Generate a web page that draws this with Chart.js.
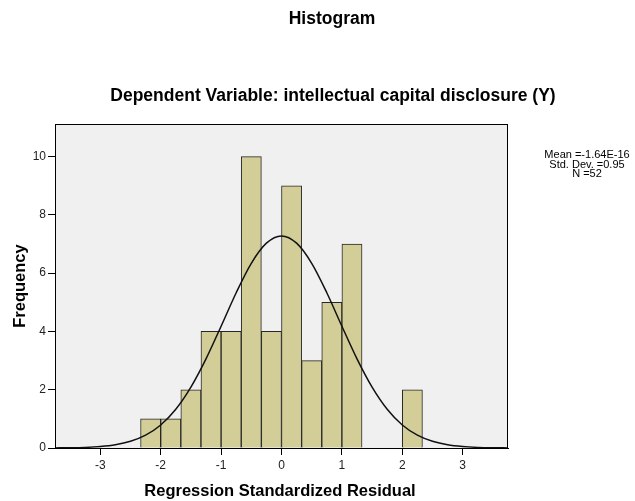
<!DOCTYPE html>
<html>
<head>
<meta charset="utf-8">
<script src="https://cdn.jsdelivr.net/npm/chart.js@4.4.1/dist/chart.umd.min.js"></script>
<style>
  html, body { margin: 0; padding: 0; background: #ffffff; }
  #wrap { width: 635px; height: 501px; position: relative; }
</style>
</head>
<body>
<div id="wrap"><canvas id="histogram"></canvas></div>
<script>
// Bin centres (bin width 1/3) and frequencies
const binCenters = [-2.1667, -1.8333, -1.5, -1.1667, -0.8333, -0.5, -0.1667, 0.1667, 0.5, 0.8333, 1.1667, 1.5, 1.8333, 2.1667];
const frequencies = [1, 1, 2, 4, 4, 10, 4, 9, 3, 5, 7, null, null, 2];

// Normal curve
const curveX = [-3.75, -3.5, -3.25, -3, -2.75, -2.5, -2.25, -2, -1.75, -1.5, -1.25, -1, -0.75, -0.5, -0.25, 0,
  0.25, 0.5, 0.75, 1, 1.25, 1.5, 1.75, 2, 2.25, 2.5, 2.75, 3, 3.25, 3.5, 3.75];
const curveY = [0.003, 0.008, 0.021, 0.05, 0.11, 0.23, 0.44, 0.79, 1.33, 2.09, 3.06, 4.18, 5.33, 6.34, 7.03, 7.28,
  7.03, 6.34, 5.33, 4.18, 3.06, 2.09, 1.33, 0.79, 0.44, 0.23, 0.11, 0.05, 0.021, 0.008, 0.003];

const xTicks = [-3, -2, -1, 0, 1, 2, 3];
const yTicks = [0, 2, 4, 6, 8, 10];

const titleText = 'Histogram';
const subtitleText = 'Dependent Variable: intellectual capital disclosure (Y)';
const xTitle = 'Regression Standardized Residual';
const yTitle = 'Frequency';
const statsLines = ['Mean =-1.64E-16', 'Std. Dev. =0.95', 'N =52'];

const fontFamily = 'Arial, "Liberation Sans", sans-serif';

const ctx = document.getElementById('histogram');

const chart = new Chart(ctx, {
  type: 'bar',
  data: {
    datasets: [
      // Normal curve
      {
        type: 'line',
        data: curveX.map((x, i) => ({ x, y: curveY[i] })),
        borderColor: '#111111',
        borderWidth: 1.5,
        pointRadius: 0,
        fill: false,
        cubicInterpolationMode: 'monotone',
        order: 0,
      },
      // Khaki bars
      {
        type: 'bar',
        data: binCenters.map((x, i) => ({ x, y: frequencies[i] })),
        backgroundColor: '#d3ce98',
        borderColor: '#262626',
        borderWidth: 1,
        barPercentage: 1,
        categoryPercentage: 1,
        order: 1,
      },
    ],
  },
  options: {
    responsive: true,
    maintainAspectRatio: false,
    animation: false,
    layout: {
      padding: { top: 124, right: 127, left: 0, bottom: 0 },
    },
    scales: {
      x: {
        type: 'linear',
        min: -3.75,
        max: 3.75,
        offset: false,
        afterFit: (s) => { s.height = 53; },
        afterBuildTicks: (s) => { s.ticks = xTicks.map(v => ({ value: v })); },
        border: { display: true, color: '#000000', width: 1 },
        grid: {
          display: true,
          offset: false,
          drawOnChartArea: false,
          drawTicks: true,
          tickLength: 7,
          color: '#000000',
        },
        ticks: {
          padding: 3,
          color: '#222222',
          maxRotation: 0,
          font: { family: fontFamily, size: 12 },
        },
      },
      y: {
        min: 0,
        max: 11.12,
        afterFit: (s) => { s.width = 55; },
        afterBuildTicks: (s) => { s.ticks = yTicks.map(v => ({ value: v })); },
        border: { display: true, color: '#000000', width: 1 },
        grid: {
          display: true,
          drawOnChartArea: false,
          drawTicks: true,
          tickLength: 7,
          color: '#000000',
        },
        ticks: {
          padding: 2,
          color: '#222222',
          font: { family: fontFamily, size: 12 },
        },
      },
    },
    plugins: {
      legend: { display: false },
      tooltip: { enabled: false },
    },
  },
  plugins: [{
    id: 'spssFrame',
    beforeDraw(c) {
      const { ctx: g, chartArea: a } = c;
      g.save();
      g.fillStyle = '#f0f0f0';
      g.fillRect(a.left, a.top, a.right - a.left, a.bottom - a.top);
      g.restore();
    },
    afterDraw(c) {
      const { ctx: g, chartArea: a } = c;
      g.save();
      // Plot frame
      g.strokeStyle = '#000000';
      g.lineWidth = 1;
      g.strokeRect(Math.round(a.left) + 0.5, Math.round(a.top) + 0.5,
        Math.round(a.right - a.left) - 1, Math.round(a.bottom - a.top));

      g.fillStyle = '#000000';
      g.textAlign = 'center';
      g.textBaseline = 'alphabetic';
      g.font = 'bold 17.5px ' + fontFamily;
      g.fillText(titleText, 332, 24);
      g.fillText(subtitleText, 333, 101);

      g.font = 'bold 16.5px ' + fontFamily;
      g.fillText(xTitle, 280, 496);

      g.save();
      g.translate(25, 286);
      g.rotate(-Math.PI / 2);
      g.fillText(yTitle, 0, 0);
      g.restore();

      // Stats box text
      g.font = '11px ' + fontFamily;
      g.textBaseline = 'alphabetic';
      statsLines.forEach((line, i) => {
        g.fillText(line, 587, 158 + i * 9.5);
      });
      g.restore();
    },
  }],
});
</script>
</body>
</html>
